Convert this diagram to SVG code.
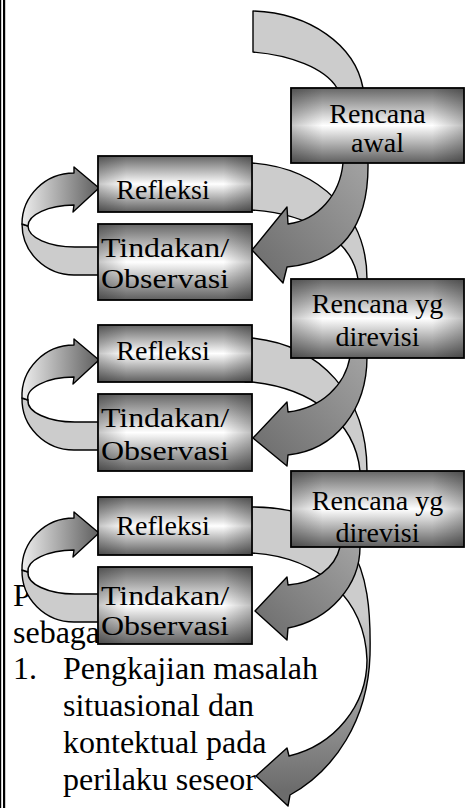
<svg xmlns="http://www.w3.org/2000/svg" width="472" height="808" viewBox="0 0 472 808">
<style>
.band{fill:#cccccc;stroke:#000;stroke-width:1.4;stroke-linejoin:round}
.dark{fill:url(#gArrow);stroke:#000;stroke-width:1.4;stroke-linejoin:round}
.loopL{fill:#cccccc;stroke:#000;stroke-width:1.4;stroke-linejoin:round}
.loopD{fill:url(#gLoop);stroke:#000;stroke-width:1.4;stroke-linejoin:round}
.box{fill:url(#gBox);stroke:#000;stroke-width:1.8}
.shade{fill:url(#gSide);stroke:none}
.bt{font-family:"Liberation Serif","Times New Roman",serif;font-size:28px;fill:#000;text-anchor:middle}
.body{font-family:"Liberation Serif","Times New Roman",serif;font-size:32px;fill:#000}
</style>
<defs>
<linearGradient id="gBox" x1="0" y1="0" x2="0" y2="1">
<stop offset="0" stop-color="#666666"/>
<stop offset="0.5" stop-color="#ffffff"/>
<stop offset="1" stop-color="#5e5e5e"/>
</linearGradient>
<linearGradient id="gSide" x1="0" y1="0" x2="1" y2="0">
<stop offset="0" stop-color="#000" stop-opacity="0.22"/>
<stop offset="0.18" stop-color="#000" stop-opacity="0"/>
<stop offset="0.82" stop-color="#000" stop-opacity="0"/>
<stop offset="1" stop-color="#000" stop-opacity="0.25"/>
</linearGradient>
<linearGradient id="gArrow" x1="1" y1="0" x2="0" y2="1">
<stop offset="0" stop-color="#a4a4a4"/>
<stop offset="1" stop-color="#6a6a6a"/>
</linearGradient>
<linearGradient id="gLoop" x1="0" y1="0" x2="1" y2="0">
<stop offset="0" stop-color="#eeeeee"/>
<stop offset="1" stop-color="#5e5e5e"/>
</linearGradient>
<linearGradient id="gFinal" gradientUnits="userSpaceOnUse" x1="0" y1="615" x2="0" y2="790">
<stop offset="0" stop-color="#cccccc"/>
<stop offset="1" stop-color="#6c6c6c"/>
</linearGradient>
</defs>

<g id="frame">
<rect x="0" y="0" width="1.2" height="808" fill="#000"/>
<rect x="3" y="0" width="2.2" height="808" fill="#000"/>
</g>

<g id="paragraph" class="body">
<text x="13" y="606">P</text>
<text x="13" y="643">sebaga</text>
<text x="13" y="679">1.</text>
<text x="63" y="679">Pengkajian masalah</text>
<text x="63" y="716">situasional dan</text>
<text x="63" y="753">kontektual pada</text>
<text x="63" y="790">perilaku seseor</text>
</g>

<g id="connectors">
<!-- start arc into Rencana awal -->
<path class="band" d="M253,11 C310,13 355,45 363,88 L363,96 L337,96 L337,88 C325,68 290,55 253,52 Z"/>
<!-- Refleksi -> Rencana yg (cycle 1) -->
<path class="band" d="M245,163 L252,163 C320,168 367,215 367,279 L367,286 L358,286 L358,279 C352,240 310,214 252,210 L245,210 Z"/>
<!-- Refleksi -> Rencana yg (cycle 2) -->
<path class="band" d="M245,338 L252,338 C320,345 367,395 367,471 L367,478 L360,478 L360,471 C355,420 310,388 252,382 L245,382 Z"/>
<!-- Refleksi -> final arrow (cycle 3) -->
<path d="M245,507 L252,507 C355,508 372,565 370,655 C368,720 335,770 290,795 L288,806 L256,776 L287,748 L289,756 C335,745 367,705 367,660 C365,600 320,557 252,553 L245,553 Z" fill="url(#gFinal)" stroke="#000" stroke-width="1.4" stroke-linejoin="round"/>

<!-- loop 1: Tindakan -> Refleksi -->
<path class="loopL" d="M22,224 A52 51 0 0 0 74,275 L101,275 L101,247 L75,247 A47 21 0 0 1 28,226 Z"/>
<path class="loopD" d="M22,224 A52 51 0 0 1 74,173 L74,167 L99,188 L73,212 L74,205 A47 21 0 0 0 28,226 Z"/>
<!-- loop 2 -->
<path class="loopL" d="M22,398 A52 51 0 0 0 74,450 L101,450 L101,422 L75,422 A47 21 0 0 1 28,400 Z"/>
<path class="loopD" d="M22,398 A52 51 0 0 1 74,345 L74,339 L99,360 L73,384 L74,377 A47 21 0 0 0 28,400 Z"/>
<!-- loop 3 -->
<path class="loopL" d="M22,570 A52 51 0 0 0 74,622 L101,622 L101,594 L75,594 A47 21 0 0 1 28,572 Z"/>
<path class="loopD" d="M22,570 A52 51 0 0 1 74,518 L74,512 L99,533 L73,557 L74,550 A47 21 0 0 0 28,572 Z"/>

<!-- Rencana -> Tindakan arrows -->
<path class="dark" d="M343,157 L343,163 C340,195 318,220 288,224 L287,207 L252,250 L283,283 L287,267 C340,262 369,228 368,163 L368,157 Z"/>
<path class="dark" d="M350,351 L350,357 C345,385 322,408 288,412 L287,402 L253,438 L287,466 L288,455 C335,450 367,410 367,357 L367,351 Z"/>
<path class="dark" d="M340,541 L340,547 C335,568 315,583 288,585 L287,577 L255,611 L287,640 L288,628 C330,620 360,585 360,547 L360,541 Z"/>
</g>

<g id="rencana-awal">
<rect class="box" x="291" y="88" width="173" height="75"/>
<rect class="shade" x="292" y="89" width="171" height="73"/>
<text class="bt" x="377.5" y="123">Rencana</text>
<text class="bt" x="377.5" y="152">awal</text>
</g>

<g id="refleksi-1">
<rect class="box" x="98" y="156" width="154" height="56"/>
<rect class="shade" x="99" y="157" width="152" height="54"/>
<text class="bt" x="163" y="199">Refleksi</text>
</g>

<g id="tindakan-1">
<rect class="box" x="98" y="224" width="154" height="76"/>
<rect class="shade" x="99" y="225" width="152" height="74"/>
<text class="bt" x="165" y="257" textLength="128" lengthAdjust="spacingAndGlyphs">Tindakan/</text>
<text class="bt" x="165" y="288" textLength="128" lengthAdjust="spacingAndGlyphs">Observasi</text>
</g>

<g id="rencana-yg-1">
<rect class="box" x="291" y="279" width="173" height="79"/>
<rect class="shade" x="292" y="280" width="171" height="77"/>
<text class="bt" x="377.5" y="313">Rencana yg</text>
<text class="bt" x="377.5" y="346">direvisi</text>
</g>

<g id="refleksi-2">
<rect class="box" x="98" y="325" width="154" height="57"/>
<rect class="shade" x="99" y="326" width="152" height="55"/>
<text class="bt" x="163" y="360">Refleksi</text>
</g>

<g id="tindakan-2">
<rect class="box" x="98" y="394" width="154" height="77"/>
<rect class="shade" x="99" y="395" width="152" height="75"/>
<text class="bt" x="165" y="427" textLength="128" lengthAdjust="spacingAndGlyphs">Tindakan/</text>
<text class="bt" x="165" y="460" textLength="128" lengthAdjust="spacingAndGlyphs">Observasi</text>
</g>

<g id="rencana-yg-2">
<rect class="box" x="291" y="471" width="173" height="76"/>
<rect class="shade" x="292" y="472" width="171" height="74"/>
<text class="bt" x="377.5" y="510">Rencana yg</text>
<text class="bt" x="377.5" y="542">direvisi</text>
</g>

<g id="refleksi-3">
<rect class="box" x="98" y="497" width="154" height="58"/>
<rect class="shade" x="99" y="498" width="152" height="56"/>
<text class="bt" x="163" y="535">Refleksi</text>
</g>

<g id="tindakan-3">
<rect class="box" x="98" y="567" width="154" height="77"/>
<rect class="shade" x="99" y="568" width="152" height="75"/>
<text class="bt" x="165" y="605" textLength="128" lengthAdjust="spacingAndGlyphs">Tindakan/</text>
<text class="bt" x="165" y="635" textLength="128" lengthAdjust="spacingAndGlyphs">Observasi</text>
</g>
</svg>
